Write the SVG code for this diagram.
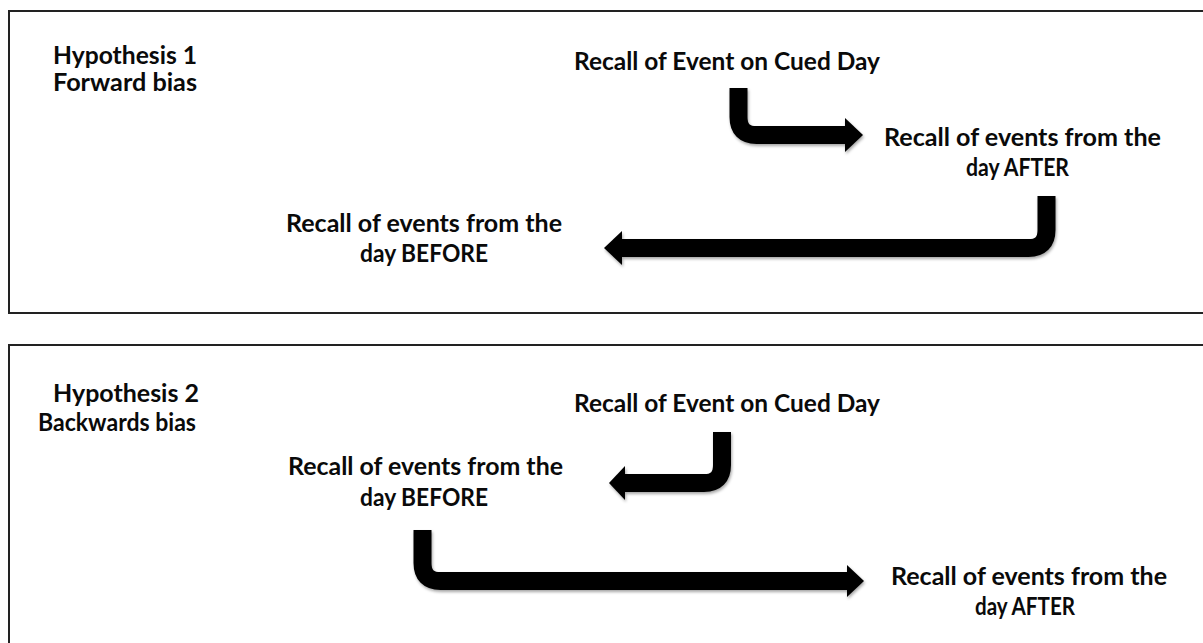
<svg xmlns="http://www.w3.org/2000/svg" width="1203" height="643" viewBox="0 0 1203 643">
<style>
.box{fill:#fff;stroke:#222;stroke-width:2}
.t{font-family:Lato,"Open Sans","Liberation Sans",sans-serif;font-weight:700;font-size:24px;fill:#0a0a0a}
.shaft{fill:none;stroke:#000;stroke-width:18}
.head{fill:#000}
</style>
<defs>
<filter id="sh" x="-10%" y="-30%" width="120%" height="160%">
<feDropShadow dx="1" dy="2" stdDeviation="1.5" flood-color="#000" flood-opacity="0.35"/>
</filter>
</defs>
<rect width="1203" height="643" fill="#fff"/>
<g id="panel1">
<rect class="box" x="9" y="11" width="1200" height="302"/>
</g>
<g id="panel2">
<rect class="box" x="9" y="345" width="1200" height="310"/>
</g>
<g id="hyp1"><text class="t" x="53" y="64" textLength="144" lengthAdjust="spacingAndGlyphs">Hypothesis 1</text><text class="t" x="53" y="91" textLength="144" lengthAdjust="spacingAndGlyphs">Forward bias</text></g>
<g id="cued1"><text class="t" x="574" y="70" textLength="306" lengthAdjust="spacingAndGlyphs">Recall of Event on Cued Day</text></g>
<g id="after1"><text class="t" x="884" y="146" textLength="277" lengthAdjust="spacingAndGlyphs">Recall of events from the</text><text class="t" x="966" y="176" textLength="103" lengthAdjust="spacingAndGlyphs">day AFTER</text></g>
<g id="before1"><text class="t" x="286" y="232" textLength="276" lengthAdjust="spacingAndGlyphs">Recall of events from the</text><text class="t" x="360" y="262" textLength="128" lengthAdjust="spacingAndGlyphs">day BEFORE</text></g>
<g id="hyp2"><text class="t" x="53" y="402" textLength="146" lengthAdjust="spacingAndGlyphs">Hypothesis 2</text><text class="t" x="38" y="431" textLength="158" lengthAdjust="spacingAndGlyphs">Backwards bias</text></g>
<g id="cued2"><text class="t" x="574" y="412" textLength="306" lengthAdjust="spacingAndGlyphs">Recall of Event on Cued Day</text></g>
<g id="before2"><text class="t" x="288" y="475" textLength="275" lengthAdjust="spacingAndGlyphs">Recall of events from the</text><text class="t" x="360" y="506" textLength="128" lengthAdjust="spacingAndGlyphs">day BEFORE</text></g>
<g id="after2"><text class="t" x="891" y="585" textLength="276" lengthAdjust="spacingAndGlyphs">Recall of events from the</text><text class="t" x="975" y="615" textLength="100" lengthAdjust="spacingAndGlyphs">day AFTER</text></g>
<g id="connectors" filter="url(#sh)">
<path class="shaft" d="M738.5 88 V117 Q738.5 135 756.5 135 H846"/>
<polygon class="head" points="845,118 863,135 845,152"/>
<path class="shaft" d="M1046.5 196 V230 Q1046.5 248 1028.5 248 H621"/>
<polygon class="head" points="622,231 604,248 622,265"/>
<path class="shaft" d="M722 432 V465 Q722 483 704 483 H624"/>
<polygon class="head" points="625,466 609,483 625,500"/>
<path class="shaft" d="M422.5 530 V563 Q422.5 581 440.5 581 H848"/>
<polygon class="head" points="847,565 864,581 847,597"/>
</g>
</svg>
